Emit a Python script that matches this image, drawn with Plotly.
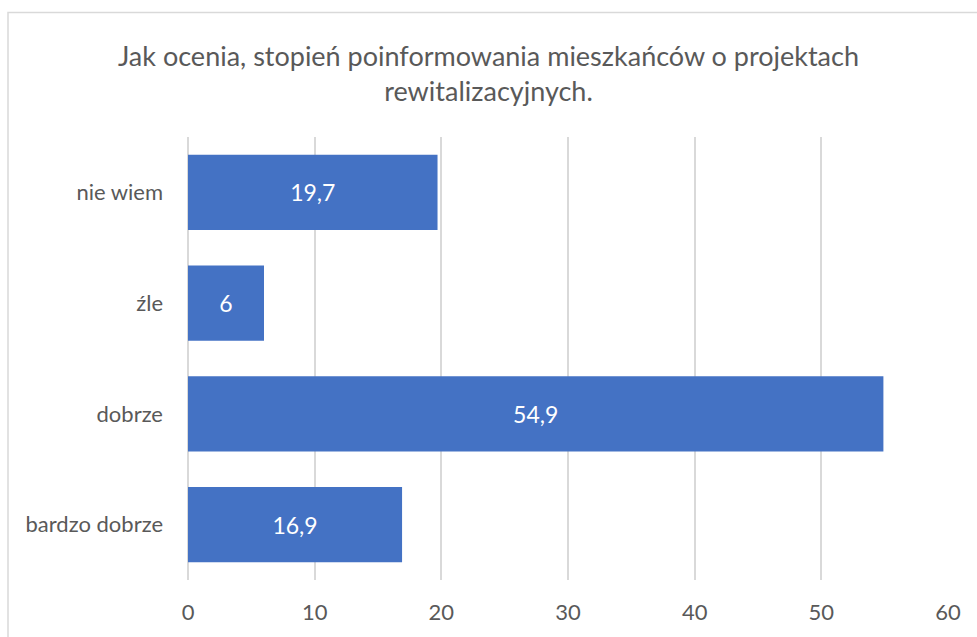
import plotly.graph_objects as go

categories = ["bardzo dobrze", "dobrze", "źle", "nie wiem"]
values = [16.9, 54.9, 6, 19.7]
value_labels = ["16,9", "54,9", "6", "19,7"]
tick_vals = [0, 10, 20, 30, 40, 50, 60]

FONT = "Lato, Calibri, Carlito, sans-serif"
GREY = "#595959"

fig = go.Figure(go.Bar(
    y=categories, x=values, orientation="h",
    marker=dict(color="#4472c4", line=dict(width=0)),
    text=value_labels, textposition="inside", insidetextanchor="middle",
    textfont=dict(family=FONT, size=23, color="white"),
    hoverinfo="skip",
))

fig.update_layout(
    width=977, height=637,
    margin=dict(l=188, r=29, t=137, b=55),
    paper_bgcolor="white", plot_bgcolor="white",
    bargap=0.32,
    showlegend=False,
    title=dict(
        text="Jak ocenia, stopień poinformowania mieszkańców o projektach<br>rewitalizacyjnych.",
        x=0.5, xanchor="center", xref="container",
        y=1 - 66 / 637, yanchor="middle", yref="container",
        font=dict(family=FONT, size=27, color=GREY),
    ),
    xaxis=dict(
        range=[0, 60], tickvals=tick_vals, showgrid=True, gridcolor="#d9d9d9", gridwidth=1.5,
        zeroline=True, zerolinecolor="#d9d9d9", zerolinewidth=1.5,
        showline=False, ticks="", tickfont=dict(family=FONT, size=22, color=GREY),
        ticklabelstandoff=17,
    ),
    yaxis=dict(
        showgrid=False, zeroline=False, showline=False, ticks="",
        tickfont=dict(family=FONT, size=22, color=GREY), ticklabelstandoff=24,
    ),
    shapes=[dict(
        type="rect", xref="paper", yref="paper",
        x0=(8 - 188) / 760, x1=1.2, y0=-0.3, y1=(582 - 12) / 445,
        line=dict(color="#d9d9d9", width=1.5), fillcolor="rgba(0,0,0,0)", layer="below",
    )],
)

fig.write_html(
    "out.html",
    config={"displayModeBar": False},
    post_script="document.body.style.margin='0';document.body.style.overflow='hidden';",
)
